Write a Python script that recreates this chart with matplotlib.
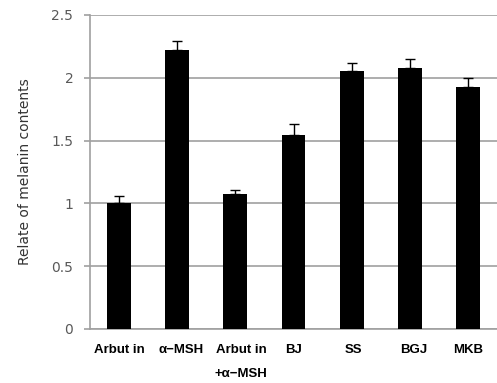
import matplotlib
matplotlib.use("Agg")
import matplotlib.pyplot as plt
from matplotlib import font_manager as fm
from matplotlib.transforms import ScaledTranslation

categories = ["Arbut in", "α−MSH", "Arbut in\n+α−MSH", "BJ", "SS", "BGJ", "MKB"]
values = [1.00, 2.22, 1.075, 1.545, 2.057, 2.08, 1.93]
errors = [0.055, 0.075, 0.03, 0.09, 0.06, 0.067, 0.065]
yticks = [0, 0.5, 1, 1.5, 2, 2.5]
ytick_labels = ["0", "0.5", "1", "1.5", "2", "2.5"]
ylabel = "Relate of melanin contents"

names = {f.name for f in fm.fontManager.ttflist}
if "Liberation Sans Narrow" in names:
    xfont = "Liberation Sans Narrow"
elif "DejaVu Sans Condensed" in names:
    xfont = "DejaVu Sans Condensed"
else:
    xfont = "Liberation Sans"

fig = plt.figure(figsize=(4.97, 3.83), dpi=100)
ax = fig.add_axes([90/497, 1-329/383, 407/497, 314/383])

x = list(range(len(categories)))
ax.bar(x, values, width=0.41, color="black", zorder=3)
ax.errorbar(x, values, yerr=[[0]*len(errors), errors], fmt="none",
            ecolor="black", elinewidth=1, capsize=3.5, capthick=1, zorder=4)

ax.set_xlim(-0.5, len(categories)-0.5)
ax.set_ylim(0, 2.5)
ax.set_yticks(yticks)
ax.set_yticklabels(ytick_labels, fontsize=10, color="#595959")
ax.yaxis.grid(True, color="#a0a0a0", linewidth=1.2, zorder=0)
ax.set_axisbelow(True)
ax.tick_params(axis="y", length=4, color="#a0a0a0", pad=8, width=1.2)
ax.tick_params(axis="x", length=0, pad=11)
ax.set_xticks(x)
ax.set_xticklabels(categories, fontsize=9.5, fontweight="bold", family=xfont,
                   linespacing=2.3, va="top")
shifts = [0, 4, 6, 0, 2, 4, 0]
for lab, dx in zip(ax.get_xticklabels(), shifts):
    lab.set_transform(lab.get_transform() + ScaledTranslation(dx/100, 0, fig.dpi_scale_trans))
for s in ["top", "right"]:
    ax.spines[s].set_visible(False)
ax.spines["left"].set_color("#a0a0a0")
ax.spines["bottom"].set_color("#a0a0a0")
ax.spines["left"].set_linewidth(1.2)
ax.spines["bottom"].set_linewidth(1.2)
ax.set_ylabel(ylabel, fontsize=10, color="#333333", labelpad=14)

fig.savefig("out.png", dpi=100)
